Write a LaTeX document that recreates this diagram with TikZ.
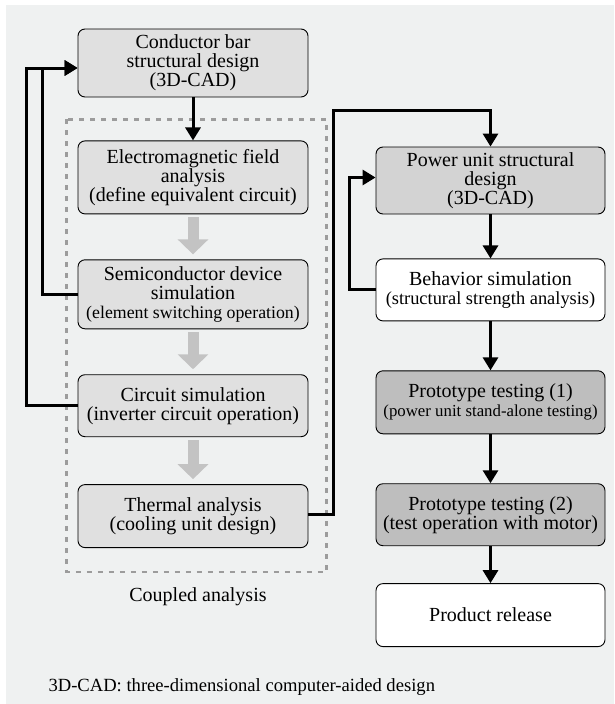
\documentclass[tikz,border=0pt]{standalone}
\usepackage{fontspec}
\setmainfont{Liberation Serif}
\usetikzlibrary{arrows.meta}
\usetikzlibrary{positioning}
\definecolor{bgcol}{HTML}{EFF1F1}
\definecolor{boxlight}{HTML}{E0E0E0}
\definecolor{boxmid}{HTML}{D3D3D3}
\definecolor{boxdark}{HTML}{BEBEBE}
\definecolor{flowgray}{HTML}{C3C3C3}
\definecolor{dashgray}{HTML}{9C9C9C}
\newcommand{\smallline}[2]{{\fontsize{#1}{19}\selectfont #2}}

\begin{document}
\begin{tikzpicture}[x=1pt,y=-1pt,font=\fontsize{20}{19}\selectfont,
    step node/.style={rectangle,rounded corners=7pt,draw,line width=0.9pt,fill=boxlight,minimum width=230pt,align=center,inner sep=0pt},
    mid node/.style={step node,fill=boxmid},
    test node/.style={step node,fill=boxdark},
    plain node/.style={step node,fill=white},
    conn/.style={draw,line width=3pt,-{Triangle[width=15pt,length=13pt]}},
    flow arrow/.style={draw=flowgray,line width=11pt,-{Triangle[width=30pt,length=15pt]}},
    dashed box/.style={draw=dashgray,line width=2.5pt,dash pattern=on 5pt off 6pt}]
    \fill[bgcol] (6,5) rectangle (614,704);
    \useasboundingbox (0,0) rectangle (614,704);

    % left column: coupled analysis
    \node[step node,minimum height=68pt] (bar) at (193,63) {Conductor bar\\structural design\\(3D-CAD)};
    \node[step node,minimum height=73pt] (emf) [below=43pt of bar] {Electromagnetic field\\analysis\\(define equivalent circuit)};
    \node[step node,minimum height=69pt] (semi) [below=45pt of emf] {Semiconductor device\\simulation\\\smallline{17.8}{(element switching operation)}};
    \node[step node,minimum height=62pt] (circ) [below=45pt of semi] {Circuit simulation\\(inverter circuit operation)};
    \node[step node,minimum height=63pt] (therm) [below=47pt of circ] {Thermal analysis\\(cooling unit design)};

    % right column
    \node[mid node,minimum width=229pt,minimum height=67pt] (pwr) at (490.5,180.5) {Power unit structural\\design\\(3D-CAD)};
    \node[plain node,minimum width=229pt,minimum height=62pt] (behav) [below=44pt of pwr] {Behavior simulation\\\smallline{18.4}{(structural strength analysis)}};
    \node[test node,minimum width=229pt,minimum height=63pt] (proto1) [below=49pt of behav] {Prototype testing (1)\\\smallline{16.8}{(power unit stand-alone testing)}};
    \node[test node,minimum width=229pt,minimum height=62pt] (proto2) [below=49pt of proto1] {Prototype testing (2)\\(test operation with motor)};
    \node[plain node,minimum width=229pt,minimum height=63pt] (release) [below=37pt of proto2] {Product release};

    \draw[dashed box] ([xshift=-11pt,yshift=21pt]emf.north west) rectangle ([xshift=18pt,yshift=-24pt]therm.south east);
    \node (coupled) at (198,597) {Coupled analysis};
    \node[anchor=west,font=\fontsize{18.6}{21}\selectfont] (note) at (45,687) {3D-CAD: three-dimensional computer-aided design};

    % gray flow inside the coupled analysis
    \draw[flow arrow] ([yshift=-3pt]emf.south) -- ([yshift=5pt]semi.north);
    \draw[flow arrow] ([yshift=-3pt]semi.south) -- ([yshift=5pt]circ.north);
    \draw[flow arrow] ([yshift=-3pt]circ.south) -- ([yshift=5pt]therm.north);

    \path[conn]
        (bar) edge (emf)
        (pwr) edge (behav)
        (behav) edge (proto1)
        (proto1) edge (proto2)
        (proto2) edge (release);

    % feedback loops
    \draw[conn] (circ.west) -- ++(-51,0) |- ([yshift=-5pt]bar.west);
    \draw[conn] (semi.west) -- ++(-35,0) |- ([yshift=-5pt]bar.west);
    \coordinate (jog) at (333,110);
    \draw[conn] ([yshift=2pt]therm.east) -| (jog) -| (pwr.north);
    \draw[conn] (behav.west) -- ++(-26,0) |- ([yshift=3pt]pwr.west);
\end{tikzpicture}
\end{document}
